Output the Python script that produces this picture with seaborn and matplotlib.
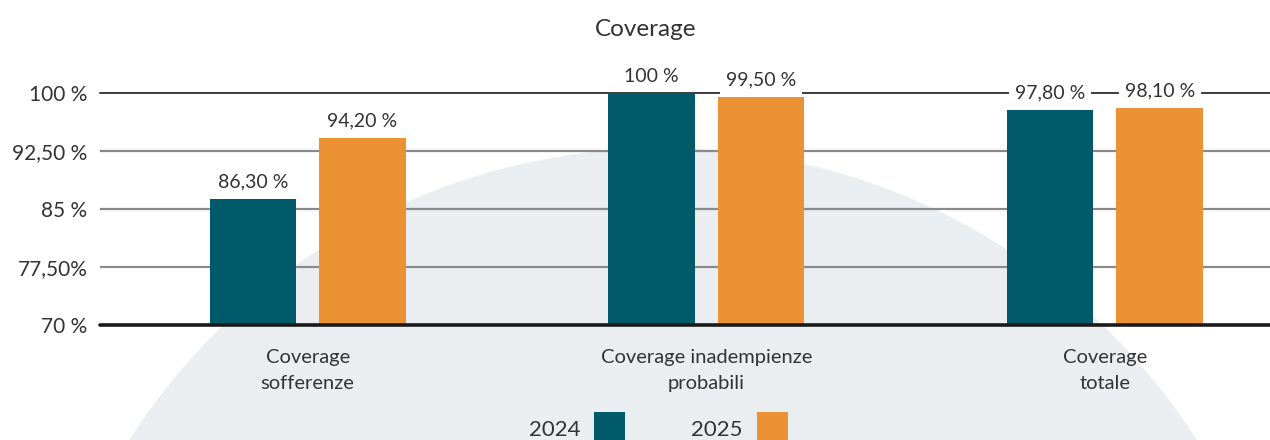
import matplotlib
matplotlib.use("Agg")
import matplotlib.pyplot as plt
import seaborn as sns
import pandas as pd
from matplotlib.patches import Circle, Rectangle

categories = ["Coverage\nsofferenze", "Coverage inadempienze\nprobabili", "Coverage\ntotale"]
years = ["2024", "2025"]
values_2024 = [86.3, 100.0, 97.8]
values_2025 = [94.2, 99.5, 98.1]
y_ticks = [70, 77.5, 85, 92.5, 100]
y_tick_labels = ["70 %", "77,50%", "85 %", "92,50 %", "100 %"]
colors = ["#005a69", "#eb9234"]
text_color = "#333333"


def fmt_pct(v):
    # formato italiano: virgola decimale, niente decimali per i valori interi
    if v == int(v):
        return f"{int(v)} %"
    return f"{v:.2f} %".replace(".", ",")


df = pd.DataFrame({
    "categoria": categories * 2,
    "anno": [years[0]] * len(categories) + [years[1]] * len(categories),
    "valore": values_2024 + values_2025,
})

sns.set_style("white")
plt.rcParams["font.family"] = ["Lato", "DejaVu Sans"]

fig = plt.figure(figsize=(12.7, 4.4), dpi=100)

# big light circle behind the chart
bg = Circle((6.63, -3.42), 6.34, transform=fig.dpi_scale_trans,
            facecolor="#ebeef1", edgecolor="none", zorder=-10)
fig.add_artist(bg)

ax = fig.add_axes([100 / 1270, 115 / 440, 1170 / 1270, 232 / 440])
ax.patch.set_alpha(0)

sns.barplot(data=df, x="categoria", y="valore", hue="anno", palette=colors,
            width=0.55, gap=0.21, saturation=1, legend=False, ax=ax,
            linewidth=0, zorder=3)

ax.set_ylim(70, 100)
ax.set_xlim(-0.521, 2.414)
ax.set_yticks(y_ticks, y_tick_labels)
ax.set_xlabel("")
ax.set_ylabel("")
sns.despine(ax=ax, left=True, bottom=True)

for y in y_ticks[1:-1]:
    ax.axhline(y, color="#8a8a8a", lw=1.6, zorder=1)
ax.axhline(100, color="#3c3c3c", lw=1.4, zorder=1, clip_on=False)
ax.axhline(70, color="#1a1a1a", lw=2.6, zorder=4, clip_on=False)

ax.tick_params(axis="y", length=0, pad=9, labelsize=15, labelcolor=text_color)
ax.tick_params(axis="x", length=0, pad=17, labelsize=14.5, labelcolor=text_color)
for t in ax.get_xticklabels():
    t.set_linespacing(1.7)

for c in ax.containers:
    ax.bar_label(c, labels=[fmt_pct(v) for v in c.datavalues], padding=6,
                 fontsize=14, color=text_color, zorder=5,
                 bbox=dict(facecolor="white", edgecolor="none", pad=4))

fig.text(0.508, 1 - 29 / 440, "Coverage", ha="center", va="center",
         fontsize=17.5, color=text_color)

# legenda: testo a sinistra del quadrato
for label, color, x_text, x_box in [(years[0], colors[0], 580, 594),
                                     (years[1], colors[1], 742, 757)]:
    fig.text(x_text / 1270, 1 - 430 / 440, label, ha="right", va="center",
             fontsize=16, color=text_color)
    fig.add_artist(Rectangle((x_box / 1270, -3 / 440), 31 / 1270, 31 / 440,
                             transform=fig.transFigure, facecolor=color,
                             edgecolor="none"))

fig.savefig("out.png", dpi=100)
